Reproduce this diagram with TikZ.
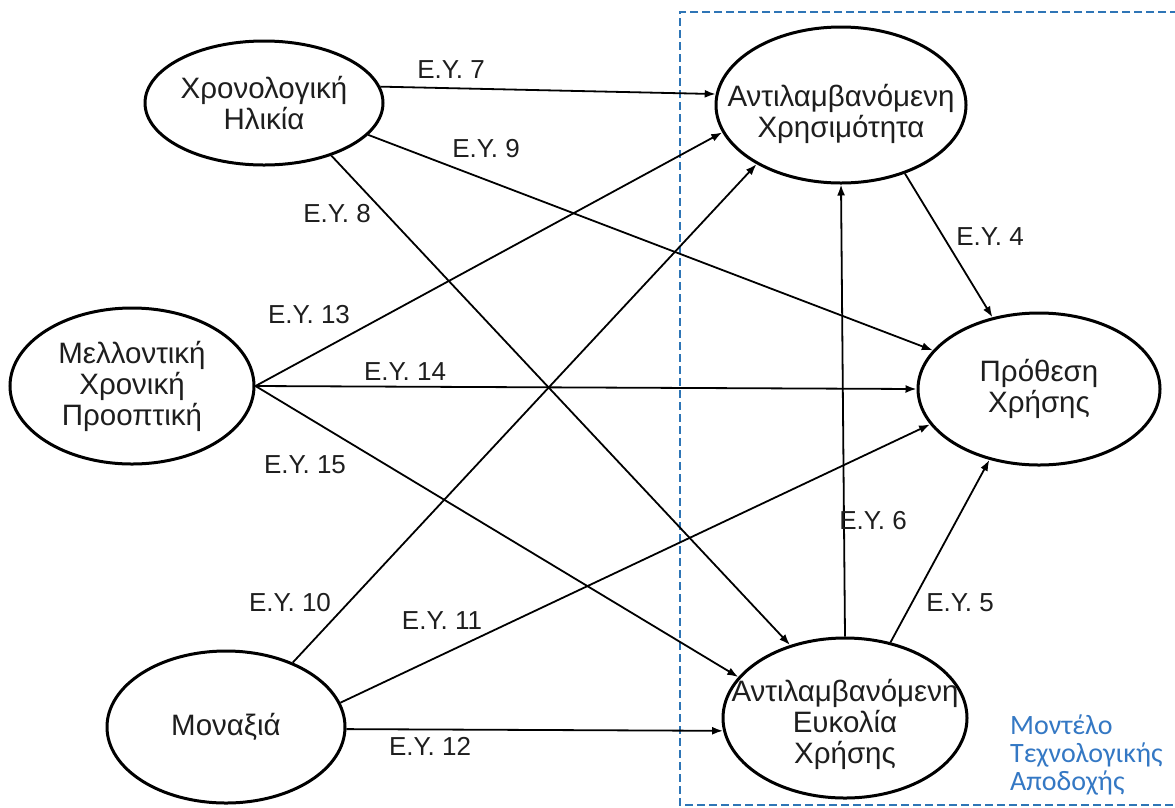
\documentclass[tikz,border=0pt]{standalone}
\usepackage{fontspec}
\setmainfont{Liberation Sans}
\newfontfamily\bluefont{Carlito}
\usetikzlibrary{shapes.geometric,arrows.meta}
\definecolor{tambox}{RGB}{46,117,182}
\definecolor{tamtext}{RGB}{52,120,196}
\definecolor{txt}{RGB}{30,30,30}
\begin{document}
\begin{tikzpicture}[x=1pt,y=-1pt,
  vartext/.style={align=center,text=txt,inner sep=0pt,font=\fontsize{29.5}{31}\selectfont},
  var/.style={vartext,ellipse,draw=black,line width=3pt,inner xsep=-60pt,inner ysep=-40pt},
  link/.style={line width=1.8pt,draw=black,-{Latex[length=11pt,width=8pt]}},
  lbl/.style={text=txt,font=\fontsize{26}{28}\selectfont,inner sep=0pt}]
\useasboundingbox (0,0) rectangle (1175,807);
\fill[white] (0,0) rectangle (1175,807);
\draw[tambox,line width=2.5pt,dash pattern=on 8pt off 4pt]
  (1178,12) -- (680,12) -- (680,805) -- (1178,805);

\node[var,minimum width=238pt,minimum height=124pt] (age) at (264,103) {Χρονολογική\\Ηλικία};
\node[var,minimum width=250pt,minimum height=156pt] (pu) at (841,105) {};
\node[vartext] (putext) at ([yshift=-9pt]pu.center) {Αντιλαμβανόμενη\\Χρησιμότητα};
\node[var,minimum width=244pt,minimum height=156pt] (fut) at (132,386) {Μελλοντική\\Χρονική\\Προοπτική};
\node[var,minimum width=242pt,minimum height=152pt] (int) at (1039,389) {Πρόθεση\\Χρήσης};
\node[var,minimum width=238pt,minimum height=152pt] (lon) at (226,727) {Μοναξιά};
\node[var,minimum width=244pt,minimum height=160pt] (peou) at (845,718) {};
\node[vartext] (peoutext) at ([yshift=-6pt]peou.center) {Αντιλαμβανόμενη\\Ευκολία\\Χρήσης};

\draw[link] (age.8) -- (pu.175);
\draw[link] (age.-17) -- (int.160);
\draw[link] (age.-38) -- (peou.127);
\draw[link] (fut.east) -- (pu.193);
\draw[link] (fut.east) -- (int.west);
\draw[link] (fut.east) -- (peou.159);
\draw[link] (lon.44) -- (pu.215);
\draw[link] (lon.12) -- (int.198);
\draw[link] (lon.-1.5) -- (peou.186);
\draw[link] (pu.-47) -- (int.123);
\draw[link] (peou.north) -- (pu.south);
\draw[link] (peou.59) -- (int.235);

\node[lbl] (l7) at (451,70) {Ε.Υ. 7};
\node[lbl] (l9) at (486,149) {Ε.Υ. 9};
\node[lbl] (l8) at (337,214) {Ε.Υ. 8};
\node[lbl] (l13) at (309,315) {Ε.Υ. 13};
\node[lbl] (l14) at (405,372) {Ε.Υ. 14};
\node[lbl] (l15) at (305,465) {Ε.Υ. 15};
\node[lbl] (l10) at (290,603) {Ε.Υ. 10};
\node[lbl] (l11) at (442,621) {Ε.Υ. 11};
\node[lbl] (l12) at (430,746) {Ε.Υ. 12};
\node[lbl] (l4) at (990,237) {Ε.Υ. 4};
\node[lbl] (l6) at (873,521) {Ε.Υ. 6};
\node[lbl] (l5) at (960,603) {Ε.Υ. 5};

\node[anchor=west,inner sep=0pt,align=left,text=tamtext,
  font=\bluefont\fontsize{28}{28}\selectfont] (tam) at (1010,755)
  {Μοντέλο\\Τεχνολογικής\\Αποδοχής};
\end{tikzpicture}
\end{document}
